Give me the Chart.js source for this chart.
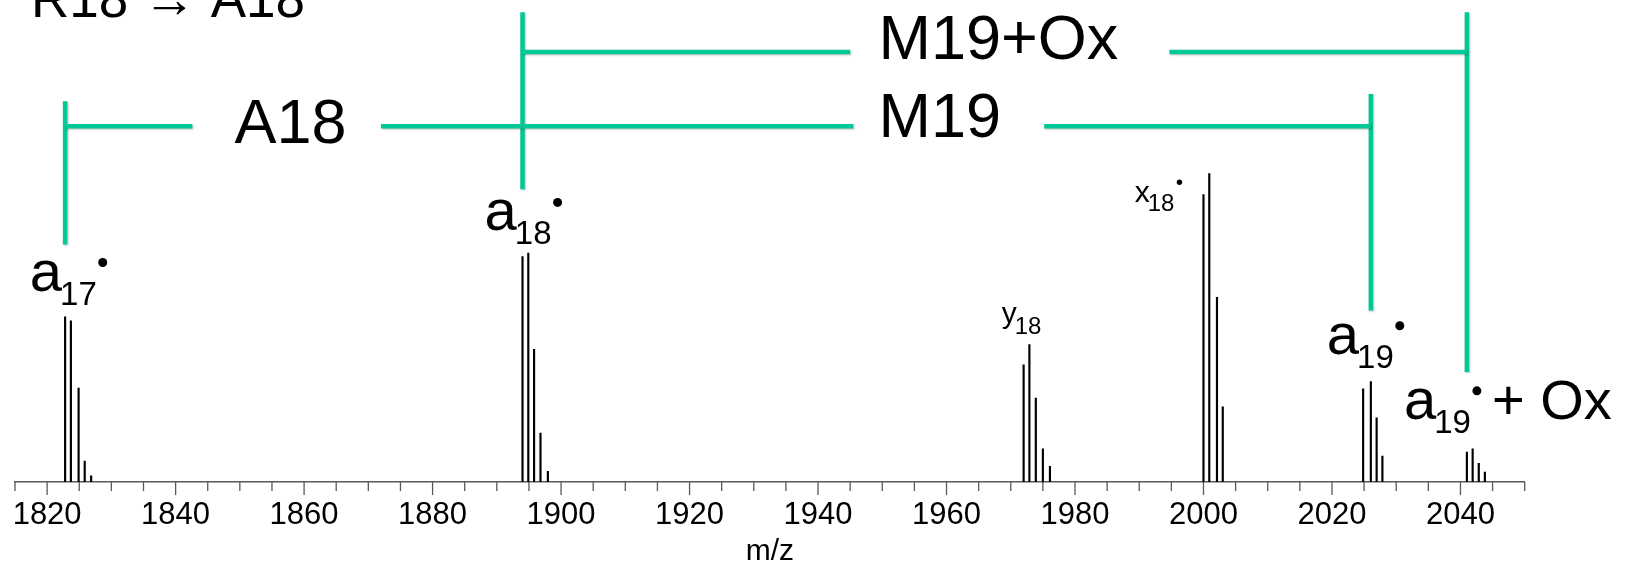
<!DOCTYPE html>
<html>
<head>
<meta charset="utf-8">
<script src="https://cdn.jsdelivr.net/npm/chart.js@4.4.0/dist/chart.umd.min.js"></script>
<style>
  html, body { margin: 0; padding: 0; background: #fff; }
  #wrap { width: 1630px; height: 566px; }
</style>
</head>
<body>
<div id="wrap"><canvas id="spectrum"></canvas></div>
<script>
// isotope clusters: m/z and relative intensity (tallest x18 peak = 100)
const a17Mz = [1822.8, 1823.7, 1824.9, 1825.85, 1826.85];
const a17Int = [53.6, 52.3, 30.5, 6.8, 2.0];
const a18Mz = [1894.0, 1894.9, 1895.8, 1896.8, 1897.95];
const a18Int = [73.1, 74.2, 43.0, 15.9, 3.5];
const y18Mz = [1972.0, 1972.9, 1973.9, 1975.0, 1976.1];
const y18Int = [38.0, 44.6, 27.2, 10.8, 5.1];
const x18Mz = [2000.0, 2000.9, 2002.1, 2003.0];
const x18Int = [93.2, 100, 59.9, 24.4];
const a19Mz = [2024.85, 2026.05, 2026.95, 2027.85];
const a19Int = [30.2, 32.6, 20.8, 8.4];
const a19OxMz = [2041.0, 2041.9, 2042.85, 2043.8];
const a19OxInt = [9.7, 10.8, 6.1, 3.2];

const mzMin = 1815;
const mzMax = 2050;
const tickStep = 5;
const labelStep = 20;

const FONT = "'Liberation Sans', Arial, sans-serif";
const GREEN = '#00c896';
const AXIS_GREY = '#595959';

const clusters = [
  [a17Mz, a17Int], [a18Mz, a18Int], [y18Mz, y18Int],
  [x18Mz, x18Int], [a19Mz, a19Int], [a19OxMz, a19OxInt],
];
const peaks = clusters.flatMap(([mz, inten]) => mz.map((m, i) => ({ x: m, y: inten[i] })));

// minor / major tick marks under the axis line
const axisTicks = {
  id: 'axisTicks',
  afterDraw(chart) {
    const xs = chart.scales.x;
    const ctx = chart.ctx;
    ctx.save();
    ctx.strokeStyle = AXIS_GREY;
    ctx.lineWidth = 1.3;
    xs.ticks.forEach(t => {
      const p = xs.getPixelForValue(t.value);
      const len = t.value % labelStep === 0 ? 13 : 9;
      ctx.beginPath();
      ctx.moveTo(p, xs.top);
      ctx.lineTo(p, xs.top + len);
      ctx.stroke();
    });
    ctx.restore();
  }
};

function drawIon(ctx, x, y, main, sub, o) {
  ctx.font = `${o.main}px ${FONT}`;
  ctx.fillText(main, x, y);
  let cx = x + ctx.measureText(main).width - 2;
  ctx.font = `${o.sub}px ${FONT}`;
  ctx.fillText(sub, cx, y + o.drop);
  cx += ctx.measureText(sub).width;
  if (o.r) {
    ctx.beginPath();
    ctx.arc(cx + o.gap, y - o.rise, o.r, 0, Math.PI * 2);
    ctx.fill();
  }
  if (o.tail) {
    ctx.font = `${o.tailSize}px ${FONT}`;
    ctx.fillText(o.tail, cx + o.gap + 15, y);
  }
}

const annotations = {
  id: 'annotations',
  afterDraw(chart) {
    const { ctx, scales: { x, y } } = chart;
    const X = v => x.getPixelForValue(v);
    const Y = v => y.getPixelForValue(v);
    const seg = (x1, y1, x2, y2) => {
      ctx.beginPath();
      ctx.moveTo(X(x1), Y(y1));
      ctx.lineTo(X(x2), Y(y2));
      ctx.stroke();
    };
    const a17 = a17Mz[0], a18 = a18Mz[0], a19 = a19Mz[1], ox = a19OxMz[0];

    ctx.save();
    ctx.strokeStyle = GREEN;
    ctx.lineWidth = 4.5;
    ctx.shadowColor = 'rgba(0,0,0,0.25)';
    ctx.shadowBlur = 2;
    ctx.shadowOffsetX = 1;
    ctx.shadowOffsetY = 1;
    seg(a17, 123.5, a17, 77.0);
    seg(a18, 152.3, a18, 94.9);
    seg(a19, 125.8, a19, 55.6);
    seg(ox, 152.3, ox, 35.7);
    seg(a17, 115.4, 1842.6, 115.4);
    seg(1871.96, 115.4, a18, 115.4);
    seg(a18, 115.4, 1945.5, 115.4);
    seg(1975.2, 115.4, a19, 115.4);
    seg(a18, 139.4, 1945.0, 139.4);
    seg(1994.7, 139.4, ox, 139.4);
    ctx.restore();

    ctx.save();
    ctx.fillStyle = '#000';
    ctx.textBaseline = 'alphabetic';
    ctx.textAlign = 'left';
    ctx.font = `53px ${FONT}`;
    ctx.fillText('R18 \u2192 A18', X(1817.5), Y(150.8));
    ctx.font = `63px ${FONT}`;
    ctx.fillText('M19', X(1949.4), Y(111.8));
    ctx.fillText('M19+Ox', X(1949.4), Y(137.1));
    ctx.textAlign = 'center';
    ctx.fillText('A18', X(1857.9), Y(109.8));
    ctx.textAlign = 'left';

    const big = { main: 58, sub: 33, drop: 14, rise: 28, r: 4.5, gap: 6 };
    drawIon(ctx, X(1817.3), Y(62.1), 'a', '17', big);
    drawIon(ctx, X(1888.1), Y(81.6), 'a', '18', big);
    drawIon(ctx, X(2019.2), Y(41.6), 'a', '19', big);
    drawIon(ctx, X(2031.2), Y(20.5), 'a', '19', { ...big, tail: '+ Ox', tailSize: 56 });
    drawIon(ctx, X(1968.6), Y(51.7), 'y', '18', { main: 30, sub: 24, drop: 11 });
    drawIon(ctx, X(1989.3), Y(90.7), 'x', '18', { main: 30, sub: 24, drop: 9, rise: 20, r: 2.7, gap: 5 });
    ctx.restore();
  }
};

const ctx = document.getElementById('spectrum').getContext('2d');
new Chart(ctx, {
  type: 'bar',
  data: {
    datasets: [{
      data: peaks,
      backgroundColor: '#000',
      borderWidth: 0,
      barThickness: 1.5,
    }],
  },
  options: {
    responsive: true,
    maintainAspectRatio: false,
    animation: false,
    layout: { padding: { left: 12.5, right: 105.3, top: 0, bottom: 0 } },
    plugins: { legend: { display: false }, tooltip: { enabled: false } },
    scales: {
      x: {
        type: 'linear',
        min: mzMin,
        max: mzMax,
        offset: false,
        grid: { display: false, drawTicks: false, offset: false },
        border: { display: true, color: AXIS_GREY, width: 1.6 },
        ticks: {
          stepSize: tickStep,
          autoSkip: false,
          maxRotation: 0,
          padding: 15,
          color: '#000',
          font: { family: FONT, size: 31, lineHeight: 1.16 },
          callback: v => (v % labelStep === 0 ? String(v) : ''),
        },
        title: {
          display: true,
          text: 'm/z',
          color: '#000',
          font: { family: FONT, size: 30, lineHeight: 1 },
          padding: { top: -11, bottom: -1 },
        },
      },
      y: { display: false, min: 0, max: 156.3 },
    },
  },
  plugins: [axisTicks, annotations],
});
</script>
</body>
</html>
